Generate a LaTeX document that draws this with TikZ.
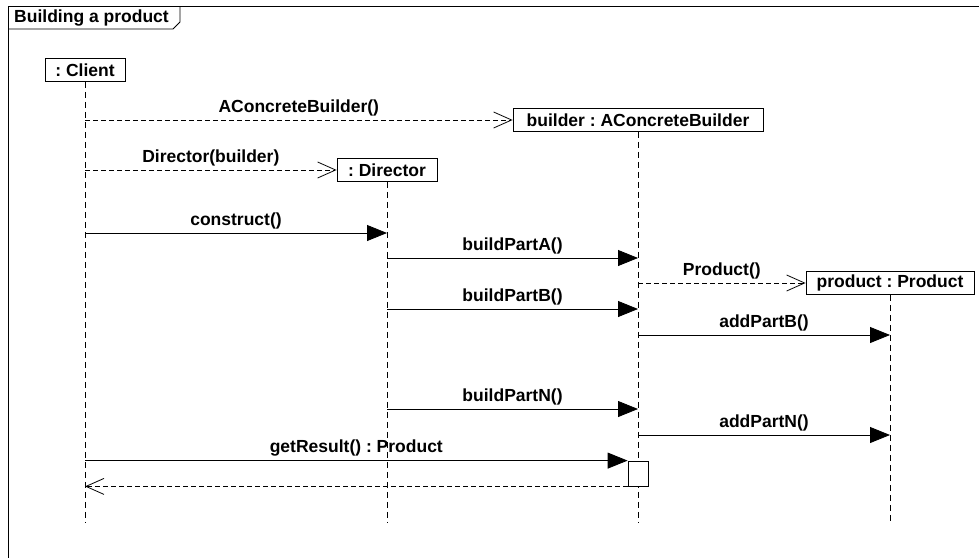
\documentclass[tikz,border=0pt]{standalone}
\usepackage{fontspec}
\setmainfont{Liberation Sans}
\usetikzlibrary{arrows.meta}
\frenchspacing
\tikzset{
  umlfont/.style={font=\fontsize{17.5}{20}\selectfont\bfseries\frenchspacing},
  obj/.style={draw, fill=white, umlfont, minimum height=23pt, inner xsep=0pt, inner ysep=0pt, line width=0.8pt},
  life/.style={line width=0.8pt, dash pattern=on 6pt off 4pt},
  syncmsg/.style={line width=0.8pt, -{Triangle[length=20pt,width=16pt]}},
  asyncmsg/.style={line width=0.8pt, dash pattern=on 5pt off 3pt, -{Straight Barb[length=18pt,width=16pt,line width=0.8pt]}},
  lbl/.style={umlfont, anchor=base, inner sep=0pt, yshift=8pt},
  framestyle/.style={line width=0.9pt}
}
\begin{document}
\begin{tikzpicture}[x=1pt,y=-1pt]
\useasboundingbox (0,0) rectangle (979,557);
% frame
\draw[framestyle] (8,570) -- (8,6.5) -- (990,6.5);
\draw[framestyle] (8,29) -- (173,29) -- (180,22) -- (180,6.5);
\node[umlfont, anchor=base west, inner sep=0pt] (title) at (14,22) {Building a product};

% objects
\node[obj, minimum width=80pt] (client) at (85,70) {: Client};
\node[obj, minimum width=250pt] (builder) at (638,120) {builder : AConcreteBuilder};
\node[obj, minimum width=100pt] (director) at (387,170) {: Director};
\node[obj, minimum width=168pt] (product) at (890,283) {product : Product};

% lifeline ends
\coordinate (yend) at (0,523);
\draw[life] (client.south) -- (client |- yend);
\draw[life] (builder.south) -- (builder |- yend);
\draw[life] (director.south) -- (director |- yend);
\draw[life] (product.south) -- (product |- yend);

% message levels
\coordinate (y1) at (0,233);
\coordinate (y2) at (0,258);
\coordinate (y3) at (0,309);
\coordinate (y4) at (0,335);
\coordinate (y5) at (0,409);
\coordinate (y6) at (0,435);

\draw[asyncmsg] (client |- builder) -- node[lbl]{AConcreteBuilder()} (builder.west);
\draw[asyncmsg] (client |- director) -- node[lbl]{Director(builder)} (director.west);
\draw[syncmsg] (client |- y1) -- node[lbl]{construct()} (director |- y1);
\draw[syncmsg] (director |- y2) -- node[lbl]{buildPartA()} (builder |- y2);
\draw[asyncmsg] (builder |- product) -- node[lbl]{Product()} (product.west);
\draw[syncmsg] (director |- y3) -- node[lbl]{buildPartB()} (builder |- y3);
\draw[syncmsg] (builder |- y4) -- node[lbl]{addPartB()} (product |- y4);
\draw[syncmsg] (director |- y5) -- node[lbl]{buildPartN()} (builder |- y5);
\draw[syncmsg] (builder |- y6) -- node[lbl]{addPartN()} (product |- y6);

% activation
\node[draw, fill=white, line width=0.8pt, minimum width=20pt, minimum height=25pt, inner sep=0pt] (act) at (638,473.5) {};
\draw[syncmsg] (client |- act.north) -- node[lbl]{getResult() : Product} (act.north west);
\draw[asyncmsg] (act.south west) -- (client |- act.south);
\end{tikzpicture}
\end{document}
